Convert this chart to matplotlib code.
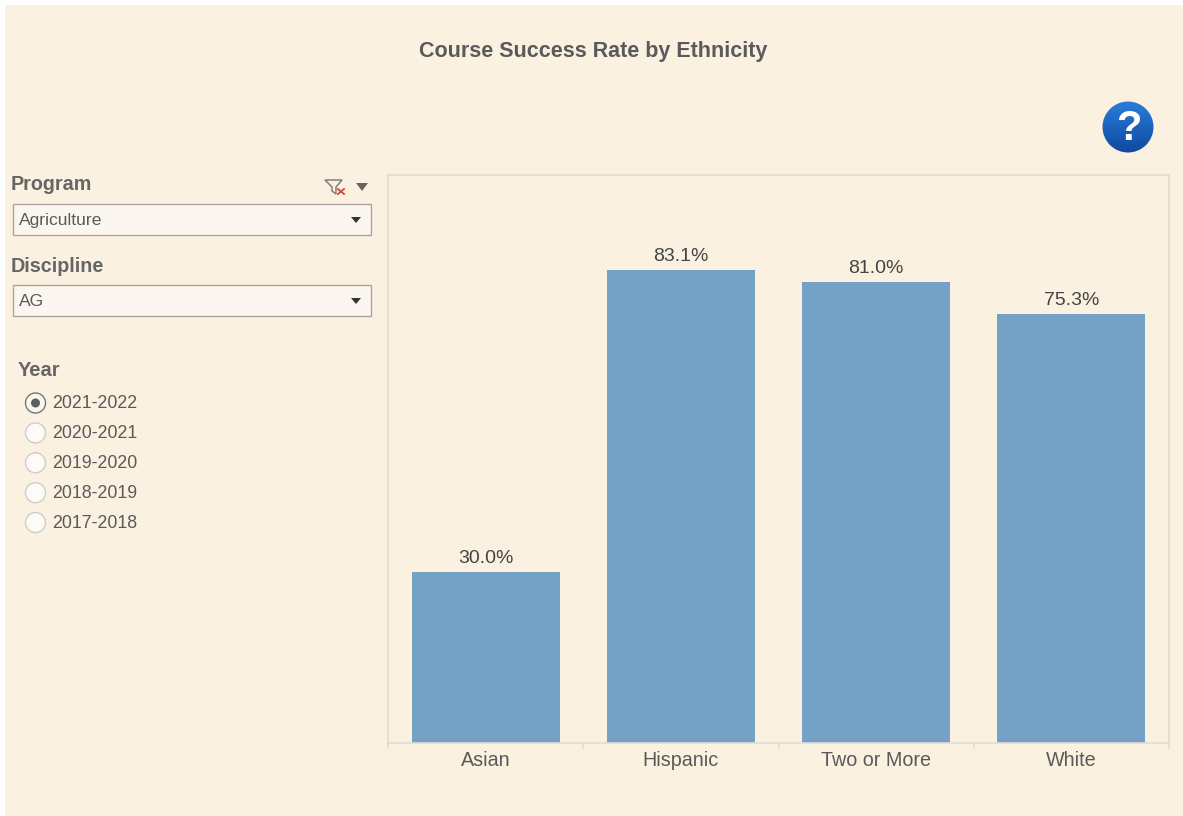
import matplotlib
matplotlib.use('Agg')
import matplotlib.pyplot as plt
import numpy as np
from matplotlib.patches import Rectangle, Circle, Polygon

categories = ['Asian', 'Hispanic', 'Two or More', 'White']
success_rate = [30.0, 83.1, 81.0, 75.3]
years = ['2021-2022', '2020-2021', '2019-2020', '2018-2019', '2017-2018']

BG = '#fbf1e0'
BAR = '#75a1c7'
TXT = '#5a5a5a'
LINE = '#e0ddd6'
W, H = 1183, 816

plt.rcParams['font.family'] = ['Liberation Sans', 'DejaVu Sans']

fig = plt.figure(figsize=(W / 100, H / 100), dpi=100, facecolor='white')

# overlay in pixel coordinates for the dashboard widgets
ui = fig.add_axes([0, 0, 1, 1])
ui.set_xlim(0, W)
ui.set_ylim(H, 0)
ui.axis('off')
ui.add_patch(Rectangle((5, 5), W - 5, H - 5, fc=BG, ec='none'))

ui.text(593.5, 52, 'Course Success Rate by Ethnicity', fontsize=15.5, fontweight='bold',
        color=TXT, ha='center', va='center')

# help icon, gradient clipped to a circle
grad = np.linspace(0, 1, 64).reshape(-1, 1)
cmap = matplotlib.colors.LinearSegmentedColormap.from_list('q', ['#2b7fdc', '#0e479f'])
im = ui.imshow(grad, cmap=cmap, extent=(1100, 1156, 155, 99), aspect='auto', zorder=2)
im.set_clip_path(Circle((1128, 127), 25.5, transform=ui.transData))
ui.set_xlim(0, W)
ui.set_ylim(H, 0)
ui.text(1128.5, 129, '?', fontsize=30, fontweight='bold', color='white', ha='center', va='center', zorder=3)


def dropdown(label, value, label_y, box_y):
    ui.text(11, label_y, label, fontsize=14.2, fontweight='bold', color='#666666', ha='left', va='center')
    ui.add_patch(Rectangle((13.5, box_y - 0.5), 358, 31, fc='#fbf7f0', ec='#aaa69e', lw=1))
    ui.text(19, box_y + 20.5, value, fontsize=12.6, color=TXT, ha='left', va='baseline')
    ui.add_patch(Polygon([(351, box_y + 13), (361, box_y + 13), (356, box_y + 19)], fc='#333333', ec='none'))


dropdown('Program', 'Agriculture', 185, 204)
dropdown('Discipline', 'AG', 266, 285)

# filter icons next to Program
ui.add_patch(Polygon([(325, 180), (342, 180), (336, 187), (336, 194), (332, 191), (332, 187)],
                     fc='none', ec='#777777', lw=1))
ui.plot([338, 344], [189, 194], color='#d9453a', lw=1.3)
ui.plot([338, 344], [194, 189], color='#d9453a', lw=1.3)
ui.add_patch(Polygon([(356, 183), (368, 183), (362, 191)], fc='#666666', ec='none'))

# year radio buttons
ui.text(17.5, 370, 'Year', fontsize=14.5, color='#666666', ha='left', va='center', fontweight='bold')
for i, year in enumerate(years):
    y = 403 + i * 29.9
    if i == 0:
        ui.add_patch(Circle((35.5, y), 10, fc='#fbf7f0', ec='#777777', lw=1))
        ui.add_patch(Circle((35.5, y), 4.5, fc='#5f5f5f', ec='none'))
    else:
        ui.add_patch(Circle((35.5, y), 10, fc='#fdfbf7', ec='#cfcdc9', lw=1))
    ui.text(52, y + 1, year, fontsize=12.8, color=TXT, ha='left', va='center')

# chart
ax = fig.add_axes([388 / W, 1 - 743 / H, (1169 - 388) / W, (743 - 175) / H])
ax.patch.set_alpha(0)
x = range(len(categories))
ax.bar(x, success_rate, width=0.757, color=BAR)
ax.set_xlim(-0.5, 3.5)
ax.set_ylim(0, 99.8)
ax.set_yticks([])
ax.set_xticks(x)
ax.set_xticklabels(categories, fontsize=14.2, color=TXT)
ax.tick_params(axis='x', length=0, pad=6)

# category separators below the axis
for b in [-0.5, 0.5, 1.5, 2.5, 3.5]:
    ax.plot([b, b], [0, -0.9], color=LINE, lw=1.2, clip_on=False)

for s in ax.spines.values():
    s.set_color(LINE)
    s.set_linewidth(1.2)

for xi, v in zip(x, success_rate):
    ax.text(xi, v + 0.95, f'{v:.1f}%', fontsize=14, color='#444444', ha='center', va='bottom')

fig.savefig('out.png', dpi=100, facecolor='white')
